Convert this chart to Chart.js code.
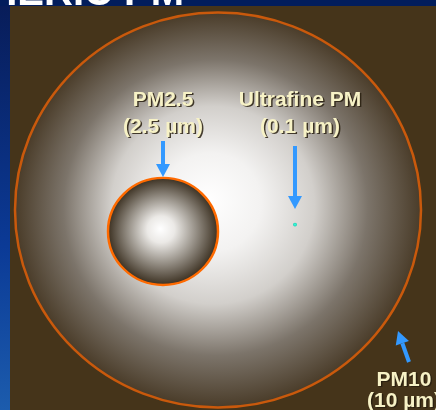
<!DOCTYPE html>
<html>
<head>
<meta charset="utf-8">
<script src="https://cdn.jsdelivr.net/npm/chart.js@4.4.1/dist/chart.umd.min.js"></script>
<style>
  body { margin: 0; background: #45341a; }
  #wrap { width: 436px; height: 410px; position: relative; }
</style>
</head>
<body>
<div id="wrap"><canvas id="pmChart"></canvas></div>
<script>
// particle circles (centre x, centre y, radius in px)
const particleNames = ['PM10', 'PM2.5', 'Ultrafine PM'];
const particleSizes = ['(10 \u00b5m)', '(2.5 \u00b5m)', '(0.1 \u00b5m)'];
const particleX = [218, 163, 295];
const particleY = [210, 232, 225];
const particleR = [203, 55, 2];

// where each label sits and where its arrow goes
const labelX = [404, 163, 300];
const labelY = [380, 100, 100];
const arrowFromX = [409, 163, 295];
const arrowFromY = [362, 141, 146];
const arrowToX = [398, 163, 295];
const arrowToY = [331, 177, 209];

const bubbleData = particleX.map((x, i) => ({ x: x, y: particleY[i], r: particleR[i] }));

// gradient stops for each circle
const fillStops = [
    [[0, '#ffffff'], [0.25, '#f3f2f1'], [0.5, '#d2cfcb'], [0.75, '#7c746a'], [1, '#4a3c29']],
    [[0, '#ffffff'], [0.25, '#ebe9e6'], [0.6, '#9a948b'], [1, '#3c3122']],
    [[0, '#40ffe0'], [1, '#18d0b4']]
];

// the slide was squashed a little vertically
const squash = 0.973;

// slide background: brown panel, blue strip on the left and on top
const slideBackground = {
    id: 'slideBackground',
    beforeDraw(chart) {
        const ctx = chart.ctx;
        const w = chart.width, h = chart.height;
        ctx.save();
        ctx.fillStyle = '#45341a';
        ctx.fillRect(0, 0, w, h);
        const blue = ctx.createLinearGradient(0, 0, 0, h);
        blue.addColorStop(0, '#081c58');
        blue.addColorStop(0.6, '#0b3a96');
        blue.addColorStop(1, '#1c5cad');
        ctx.fillStyle = blue;
        ctx.fillRect(0, 0, 10, h);
        ctx.fillStyle = '#021d5c';
        ctx.fillRect(0, 0, w, 6);
        // title of the slide, mostly cut off at the top
        ctx.fillStyle = '#ffffff';
        ctx.font = 'bold 40px "Liberation Sans", Arial, sans-serif';
        ctx.textAlign = 'right';
        ctx.textBaseline = 'alphabetic';
        ctx.fillText('ATMOSPHERIC PM', 184, 5);
        ctx.restore();
    }
};

// radial shading for each circle, built once the points have their pixels
const radialShading = {
    id: 'radialShading',
    beforeDatasetDraw(chart) {
        const ctx = chart.ctx;
        const els = chart.getDatasetMeta(0).data;
        els.forEach((el, i) => {
            const r = particleR[i];
            if (!isFinite(el.x) || !isFinite(el.y)) return;
            const g = ctx.createRadialGradient(el.x - r * 0.05, el.y - r * 0.05, 0, el.x, el.y, r);
            fillStops[i].forEach(s => g.addColorStop(s[0], s[1]));
            el.options.backgroundColor = g;
        });
        const cy = els[0].y;
        ctx.save();
        ctx.translate(0, cy);
        ctx.scale(1, squash);
        ctx.translate(0, -cy);
    },
    afterDatasetDraw(chart) {
        chart.ctx.restore();
    }
};

// blue arrows and cream labels
const annotations = {
    id: 'annotations',
    afterDatasetsDraw(chart) {
        const ctx = chart.ctx;
        const sx = chart.scales.x, sy = chart.scales.y;
        ctx.save();
        for (let i = 0; i < particleNames.length; i++) {
            const x1 = sx.getPixelForValue(arrowFromX[i]);
            const y1 = sy.getPixelForValue(arrowFromY[i]);
            const x2 = sx.getPixelForValue(arrowToX[i]);
            const y2 = sy.getPixelForValue(arrowToY[i]);
            const a = Math.atan2(y2 - y1, x2 - x1);
            const head = 13;
            const bx = x2 - head * Math.cos(a), by = y2 - head * Math.sin(a);
            ctx.strokeStyle = '#3399ff';
            ctx.fillStyle = '#3399ff';
            ctx.lineWidth = 4;
            ctx.beginPath();
            ctx.moveTo(x1, y1);
            ctx.lineTo(bx, by);
            ctx.stroke();
            ctx.beginPath();
            ctx.moveTo(x2, y2);
            ctx.lineTo(bx + 7 * Math.sin(a), by - 7 * Math.cos(a));
            ctx.lineTo(bx - 7 * Math.sin(a), by + 7 * Math.cos(a));
            ctx.closePath();
            ctx.fill();

            const lx = sx.getPixelForValue(labelX[i]);
            const ly = sy.getPixelForValue(labelY[i]);
            ctx.font = 'bold 21px "Liberation Sans", Arial, sans-serif';
            ctx.textAlign = 'center';
            ctx.textBaseline = 'middle';
            const lines = [particleNames[i], particleSizes[i]];
            const gap = i === 0 ? 21 : 27;
            lines.forEach((t, k) => {
                ctx.fillStyle = 'rgba(40,30,15,0.85)';
                ctx.fillText(t, lx + 1.5, ly + k * gap + 1.5);
                ctx.fillStyle = '#f7f2c6';
                ctx.fillText(t, lx, ly + k * gap);
            });
        }
        ctx.restore();
    }
};

new Chart(document.getElementById('pmChart').getContext('2d'), {
    type: 'bubble',
    data: {
        labels: particleNames,
        datasets: [{
            label: 'Particle size',
            data: bubbleData,
            backgroundColor: '#cccccc',
            borderColor: ['#c9590c', '#ff6a00', 'rgba(0,0,0,0)'],
            borderWidth: [2.5, 2.5, 0],
            hoverRadius: 0,
            clip: false
        }]
    },
    options: {
        responsive: true,
        maintainAspectRatio: false,
        animation: false,
        events: [],
        layout: { padding: 0, autoPadding: false },
        scales: {
            x: { type: 'linear', min: 0, max: 436, display: false },
            y: { type: 'linear', min: 0, max: 410, reverse: true, display: false }
        },
        plugins: {
            legend: { display: false },
            tooltip: { enabled: false }
        }
    },
    plugins: [slideBackground, radialShading, annotations]
});
</script>
</body>
</html>
